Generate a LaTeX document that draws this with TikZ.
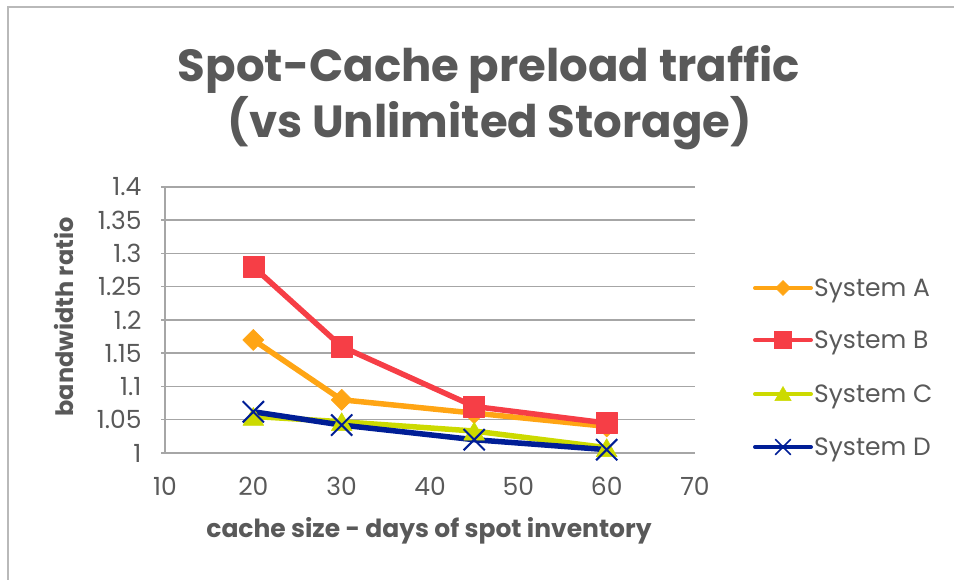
\documentclass[tikz,border=0pt]{standalone}
\usepackage{fontspec}
\setmainfont{Poppins}
\usepackage{tikz}
\usepackage{pgfplots}
\pgfplotsset{compat=1.18}

\definecolor{sysA}{RGB}{255,165,20}
\definecolor{sysB}{RGB}{246,62,70}
\definecolor{sysC}{RGB}{204,218,0}
\definecolor{sysD}{RGB}{0,30,150}
\definecolor{gridgray}{RGB}{166,166,166}
\definecolor{textgray}{RGB}{89,89,89}
\definecolor{framegray}{RGB}{185,185,185}

\begin{document}
\begin{tikzpicture}[
    x=1pt, y=1pt,
    titletext/.style={font=\fontsize{45}{45}\selectfont\bfseries, text=textgray, inner sep=0pt},
    axistitle/.style={font=\fontsize{24}{24}\selectfont\bfseries, text=textgray, inner sep=0pt},
    legendtext/.style={font=\fontsize{25}{25}\selectfont, text=textgray, inner sep=0pt},
    legendline/.style={line width=4pt, line cap=round},
    series/.style={line width=5.5pt, line join=round}
]
\useasboundingbox (0,0) rectangle (954,580);
% chart frame
\draw[framegray, line width=2pt] (8,-10) -- (8,573) -- (964,573);

\node[titletext, anchor=base] (title) at (489,498) {Spot-Cache preload traffic};
\node[titletext, anchor=base] (subtitle) at (490,442) {(vs Unlimited Storage)};

\begin{axis}[
    at={(165pt,127pt)}, anchor=south west,
    scale only axis, width=530pt, height=266pt,
    xmin=10, xmax=70, ymin=1, ymax=1.4,
    xtick={10,20,30,40,50,60,70},
    xticklabels={10,20,30,40,50,60,70},
    ytick={1,1.05,1.1,1.15,1.2,1.25,1.3,1.35,1.4},
    yticklabels={1,1.05,1.1,1.15,1.2,1.25,1.3,1.35,1.4},
    axis x line*=bottom, axis y line*=left,
    axis line style={gridgray, line width=1.5pt},
    ymajorgrids, major grid style={gridgray, line width=1.5pt},
    xtick style={draw=none},
    ytick style={gridgray, line width=1.5pt},
    tick align=outside, major tick length=4pt,
    ticklabel style={font=\fontsize{25}{25}\selectfont, text=textgray},
    xticklabel style={yshift=-17pt},
    yticklabel style={xshift=-16pt},
    clip=false
]
\addplot[series, sysA, mark=square*, mark size=7.5pt, mark options={rotate=45, line width=0.5pt}]
    coordinates {(20,1.17) (30,1.08) (45,1.06) (60,1.04)};
\addplot[series, sysB, mark=square*, mark size=10.5pt, mark options={line width=0.5pt}]
    coordinates {(20,1.28) (30,1.16) (45,1.07) (60,1.045)};
\addplot[series, sysC, mark=triangle*, mark size=12pt, mark options={yshift=-3pt, line width=0.5pt}]
    coordinates {(20,1.055) (30,1.047) (45,1.033) (60,1.008)};
\addplot[series, sysD, mark=x, mark size=15pt, mark options={line width=2pt}]
    coordinates {(20,1.062) (30,1.042) (45,1.02) (60,1.005)};
\end{axis}

% axis titles
\node[axistitle, rotate=90, anchor=base] (ylab) at (73,263) {bandwidth ratio};
\node[axistitle, anchor=base, font=\fontsize{25}{25}\selectfont\bfseries] (xlab) at (429,42) {cache size - days of spot inventory};

% legend
\draw[legendline, sysA] plot[mark=square*, mark indices={2}, mark size=5.3pt, mark options={rotate=45, line width=0.5pt}]
    coordinates {(755,292) (783,292) (811,292)};
\draw[legendline, sysB] plot[mark=square*, mark indices={2}, mark size=8.5pt, mark options={line width=0.5pt}]
    coordinates {(755,240) (783,240) (811,240)};
\draw[legendline, sysC] plot[mark=triangle*, mark indices={2}, mark size=9.5pt, mark options={yshift=-2pt, line width=0.5pt}]
    coordinates {(755,186) (783,186) (811,186)};
\draw[legendline, sysD] plot[mark=x, mark indices={2}, mark size=10.6pt, mark options={line width=1.5pt}]
    coordinates {(755,133) (783,133) (811,133)};
\node[legendtext, anchor=base west] (legA) at (814,283) {System A};
\node[legendtext, anchor=base west] (legB) at (814,231) {System B};
\node[legendtext, anchor=base west] (legC) at (814,177) {System C};
\node[legendtext, anchor=base west] (legD) at (814,124) {System D};
\end{tikzpicture}
\end{document}
